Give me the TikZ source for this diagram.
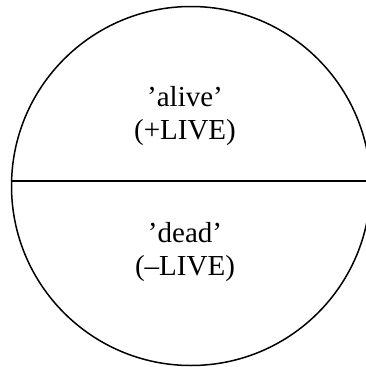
\documentclass[tikz,border=0pt]{standalone}
\usepackage{fontspec}
\setmainfont{Liberation Serif}
\usepackage{tikz}
\usetikzlibrary{positioning}

\tikzset{
	label text/.style={align=center, font=\fontsize{29}{33}\selectfont, inner sep=0pt},
	outline/.style={line width=1.5pt, black}
}

\begin{document}
\begin{tikzpicture}[x=1pt, y=1pt]
		\useasboundingbox (0,0) rectangle (365,-367);
		% Kreis
		\node[outline, draw, circle, minimum size=359pt, inner sep=0pt] (disc) at (191,-186) {};
		% Trennlinie
		\coordinate (chordL) at (11.6,-181);
		\coordinate (chordR) at (370.4,-181);
		\draw[outline] (chordL) -- (chordR);
		% Beschriftung
		\node[label text] (alive) at (185,-116) {'alive'\\(+LIVE)};
		\node[label text] (dead) at (185,-252) {'dead'\\(--LIVE)};
	\end{tikzpicture}
\end{document}
